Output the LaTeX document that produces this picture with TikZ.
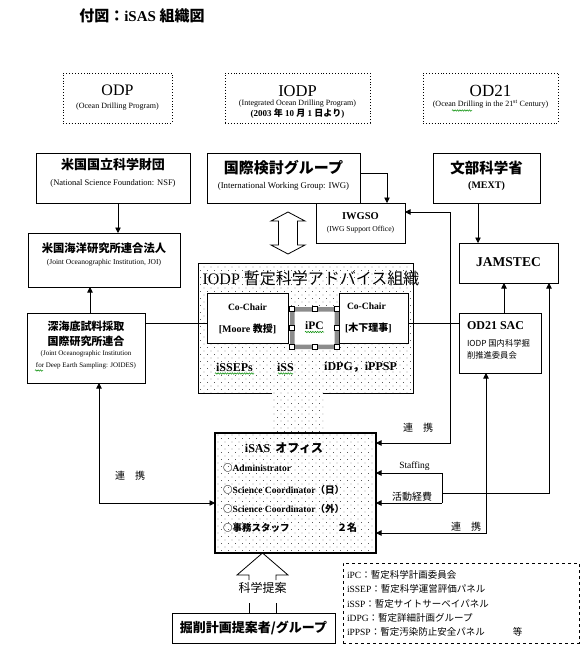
\documentclass[tikz,border=0pt]{standalone}
\usepackage{fontspec}
\setmainfont{Liberation Serif}
\newfontfamily\jp{Noto Sans CJK JP}
\usetikzlibrary{arrows.meta,patterns,decorations.pathmorphing}
\newcommand\fsz[1]{\fontsize{#1}{#1}\selectfont}
\pgfdeclarepatternformonly{sdots}{\pgfpoint{-1pt}{-1pt}}{\pgfpoint{8pt}{8pt}}{\pgfpoint{7pt}{7pt}}{%
  \pgfpathcircle{\pgfpoint{1pt}{1pt}}{0.45pt}%
  \pgfpathcircle{\pgfpoint{4.5pt}{4.5pt}}{0.45pt}%
  \pgfusepath{fill}}
\begin{document}
\begin{tikzpicture}[x=1pt,y=-1pt,
  box/.style={draw,line width=0.8pt,fill=white,inner sep=0pt,outer sep=0pt},
  dbox/.style={draw,line width=0.9pt,dotted,inner sep=0pt,outer sep=0pt},
  txt/.style={inner sep=0pt,outer sep=0pt},
  ln/.style={line width=0.8pt},
  arr/.style={line width=0.8pt,-{Triangle[width=5.5pt,length=5.5pt]}},
  arrb/.style={line width=0.8pt,{Triangle[width=5.5pt,length=5.5pt]}-{Triangle[width=5.5pt,length=5.5pt]}},
  squig/.style={green!55!black,line width=0.5pt,decorate,decoration={snake,amplitude=0.7pt,segment length=2.4pt}}]
\useasboundingbox (0,0) rectangle (584,646);

% title
\node[txt,font=\bfseries\fsz{15}] (title) at (142,16) {{\jp\bfseries 付図：}iSAS {\jp\bfseries 組織図}};

% top dotted boxes
\node[dbox,minimum width=109,minimum height=50] (odp) at (117.5,98) {};
\node[txt,font=\fsz{16}] (odpT) at (117.5,90) {ODP};
\node[txt,font=\fsz{8}] (odpS) at (117.5,107) {(Ocean Drilling Program)};

\node[dbox,minimum width=145,minimum height=50] (iodp) at (297.5,98) {};
\node[txt,font=\fsz{16.5}] (iodpT) at (297.5,91) {IODP};
\node[txt,font=\fsz{8}] (iodpS) at (297.5,104) {(Integrated Ocean Drilling Program)};
\node[txt,font=\bfseries\fsz{9}] (iodpD) at (297.5,114) {(2003 {\jp\bfseries 年} 10 {\jp\bfseries 月} 1 {\jp\bfseries 日より})};

\node[dbox,minimum width=135,minimum height=50] (od21) at (490.5,98) {};
\node[txt,font=\fsz{17}] (od21T) at (490.5,91) {OD21};
\node[txt,font=\fsz{8}] (od21S) at (490.5,104) {(Ocean Drilling in the 21\textsuperscript{st} Century)};
\draw[squig] (452,110.5) -- (472,110.5);

% second row
\node[box,minimum width=154,minimum height=50] (nsf) at (113,178) {};
\node[txt,font=\jp\bfseries\fsz{13}] (nsfT) at (113,165) {米国国立科学財団};
\node[txt,font=\fsz{8.5}] (nsfS) at (113,183) {(National Science Foundation: NSF)};

\node[box,minimum width=153,minimum height=50] (kokusai) at (283.5,178) {};
\node[txt,font=\jp\bfseries\fsz{15}] (kokT) at (283.5,168) {国際検討グループ};
\node[txt,font=\fsz{8.8}] (kokS) at (283.5,186) {(International Working Group: IWG)};

\node[box,minimum width=89,minimum height=40] (iwgso) at (360.5,223) {};
\node[txt,font=\bfseries\fsz{10.5}] (iwgT) at (360.5,216) {IWGSO};
\node[txt,font=\fsz{7.6}] (iwgS) at (360.5,230) {(IWG Support Office)};

\node[box,minimum width=107,minimum height=50] (mext) at (486.5,178) {};
\node[txt,font=\jp\bfseries\fsz{14.5}] (mextT) at (486.5,168) {文部科学省};
\node[txt,font=\bfseries\fsz{10}] (mextS) at (486.5,186) {(MEXT)};

\node[box,minimum width=99,minimum height=40] (jamstec) at (508.5,263) {};
\node[txt,font=\bfseries\fsz{13.5}] (jamT) at (508.5,262) {JAMSTEC};

\node[box,minimum width=152,minimum height=54] (joi) at (104,260) {};
\node[txt,font=\jp\bfseries\fsz{11.3}] (joiT) at (104,248) {米国海洋研究所連合法人};
\node[txt,font=\fsz{7.5}] (joiS) at (104,263) {(Joint Oceanographic Institution, JOI)};

\node[box,minimum width=118,minimum height=70] (joides) at (86,348) {};
\node[txt,font=\jp\bfseries\fsz{11}] (joidesT1) at (86,326) {深海底試料採取};
\node[txt,font=\jp\bfseries\fsz{11}] (joidesT2) at (86,341) {国際研究所連合};
\node[txt,font=\fsz{7}] (joidesS1) at (86,354) {(Joint Oceanographic Institution};
\node[txt,font=\fsz{7}] (joidesS2) at (86,366) {for Deep Earth Sampling: JOIDES)};
\draw[squig] (35,370.5) -- (43,370.5);

\node[box,minimum width=82,minimum height=60] (od21sac) at (500,343) {};
\node[txt,font=\bfseries\fsz{12},anchor=west] (sacT) at (467,326) {OD21 SAC};
\node[txt,font=\jp\fsz{8.3},anchor=west] (sacS1) at (467,343) {IODP 国内科学掘};
\node[txt,font=\jp\fsz{8.3},anchor=west] (sacS2) at (467,355) {削推進委員会};

% IODP interim science advisory structure (dotted region)
\fill[pattern=sdots] (198,263) -- (413,263) -- (413,393) -- (323,393) -- (323,433) -- (272,433) -- (272,393) -- (198,393) -- cycle;
\draw[ln] (272,393) -- (198,393) -- (198,263) -- (413,263) -- (413,393) -- (323,393);
\node[txt,font=\fsz{16}] (orgT) at (311,278) {IODP {\jp 暫定科学アドバイス組織}};

\node[box,minimum width=81,minimum height=50] (cochairL) at (247.5,318) {};
\node[txt,font=\bfseries\fsz{9.6}] (clT1) at (247.5,307) {Co-Chair};
\node[txt,font=\bfseries\fsz{10}] (clT2) at (247.5,329) {[Moore {\jp\bfseries 教授}]};

\node[box,minimum width=69,minimum height=50] (cochairR) at (373.5,318) {};
\node[txt,font=\bfseries\fsz{9.6},anchor=west] (crT1) at (347,306) {Co-Chair};
\node[txt,font=\bfseries\fsz{10},anchor=west] (crT2) at (345,328) {[{\jp\bfseries 木下理事}]};

% iPC selection frame
\fill[white] (290,307) rectangle (339,349);
\fill[black!45,even odd rule] (290,307) rectangle (339,349) (294.5,311.5) rectangle (334.5,344.5);
\foreach \hx/\hy in {292/309,314.5/309,337/309,292/328,337/328,292/347,314.5/347,337/347}
  \draw[line width=0.6pt,fill=white] (\hx-2.3,\hy-2.3) rectangle (\hx+2.3,\hy+2.3);
\node[txt,font=\bfseries\fsz{11.5}] (ipc) at (314.5,326) {iPC};
\draw[squig] (305,332) -- (324,332);

\node[txt,font=\bfseries\fsz{12}] (issep) at (234.5,367) {iSSEPs};
\node[txt,font=\bfseries\fsz{12}] (iss) at (285.5,367) {iSS};
\node[txt,font=\bfseries\fsz{12}] (idpg) at (360.5,367) {iDPG{\jp\bfseries ，}iPPSP};
\draw[squig] (215,373.5) -- (254,373.5);
\draw[squig] (278,373.5) -- (293,373.5);

% iSAS office
\node[draw,line width=1.8pt,pattern=sdots,minimum width=161,minimum height=120,inner sep=0pt,outer sep=0pt] (isas) at (295.5,493) {};
\node[txt,font=\bfseries\fsz{12}] (isasT) at (284,448) {iSAS\ \,{\jp\bfseries オフィス}};
\node[txt,font=\bfseries\fsz{9.5},anchor=west] (adm) at (223,468) {{\jp ○}Administrator};
\node[txt,font=\bfseries\fsz{9.5},anchor=west] (sc1) at (223,490) {{\jp ○}Science Coordinator{\jp\bfseries （日）}};
\node[txt,font=\bfseries\fsz{9.5},anchor=west] (sc2) at (223,509) {{\jp ○}Science Coordinator{\jp\bfseries （外）}};
\node[txt,font=\jp\bfseries\fsz{9.5},anchor=west] (staff) at (223,528) {○事務スタッフ};
\node[txt,font=\jp\bfseries\fsz{10}] (nin) at (347,528) {２名};

% proposers
\node[box,minimum width=163,minimum height=30] (kussaku) at (253.5,628) {};
\node[txt,font=\jp\bfseries\fsz{13}] (kusT) at (253.5,628) {掘削計画提案者/グループ};
\node[txt,font=\jp\fsz{12}] (teian) at (262.5,588) {科学提案};
\draw[ln] (249,580) -- (249,575) -- (237,575) -- (262.5,553) -- (288,575) -- (276,575) -- (276,580);
\draw[ln] (249,603) -- (249 ,613);
\draw[ln] (276,603) -- (276,613);

% hollow double arrow
\draw[ln,fill=white] (288,212) -- (305,221) -- (297.5,221) -- (297.5,245) -- (305,245) -- (288,254) -- (271,245) -- (278.5,245) -- (278.5,221) -- (271,221) -- cycle;

% legend
\node[draw,dashed,line width=0.8pt,minimum width=236,minimum height=80,inner sep=0pt] (legend) at (461,603) {};
\node[txt,font=\fsz{9.5},anchor=west] (lg1) at (347,575) {iPC{\jp：暫定科学計画委員会}};
\node[txt,font=\fsz{9.5},anchor=west] (lg2) at (347,589) {iSSEP{\jp：暫定科学運営評価パネル}};
\node[txt,font=\fsz{9.5},anchor=west] (lg3) at (347,603.5) {iSSP{\jp：暫定サイトサーベイパネル}};
\node[txt,font=\fsz{9.5},anchor=west] (lg4) at (347,618) {iDPG{\jp：暫定詳細計画グループ}};
\node[txt,font=\fsz{9.5},anchor=west] (lg5) at (347,632) {iPPSP{\jp：暫定汚染防止安全パネル}\hspace{28pt}{\jp 等}};

% connectors
\draw[arr] ([xshift=5pt]nsf.south) -- ([xshift=5pt]nsf.south |- joi.north);
\draw[arr] ([xshift=4pt]joides.north) -- ([xshift=4pt]joides.north |- joi.south);
\draw[arr] ([yshift=5pt]kokusai.east) -| ([xshift=26.5pt]iwgso.north);
\coordinate (c1) at (450,212);
\coordinate (c2) at (450,443);
\draw[arrb] (iwgso.east |- c1) -- (c1) -- (c2) -- (isas.east |- c2);
\draw[arr] ([xshift=-8.5pt]mext.south) -- ([xshift=-8.5pt]mext.south |- jamstec.north);
\draw[arr] ([xshift=4pt]od21sac.north) -- ([xshift=4pt]od21sac.north |- jamstec.south);
\coordinate (s1) at (442,473);
\coordinate (s2) at (442,503);
\coordinate (s3) at (442,493);
\coordinate (s4) at (549,493);
\draw[arr] (s1) -- (isas.east |- s1);
\draw[arr] (s2) -- (isas.east |- s2);
\draw[ln] (s1) -- (s2);
\draw[arr] (s3) -- (s4) -- (s4 |- jamstec.south);
\coordinate (b1) at (486,533);
\draw[arrb] (isas.east |- b1) -- (b1) -- (b1 |- od21sac.south);
\coordinate (l1) at (99,503);
\draw[arrb] (joides.south -| l1) -- (l1) -- (isas.west |- l1);
\draw[ln] ([yshift=-5pt]cochairL.west) -- ([yshift=-5pt]cochairL.west -| joides.east);
\draw[ln] ([yshift=-5pt]cochairR.east) -- ([yshift=-5pt]cochairR.east -| od21sac.west);

% connector labels
\node[txt,font=\jp\fsz{10}] (lab1) at (418,428) {連\hspace{10pt}携};
\node[txt,font=\fsz{9.5}] (lab2) at (414.5,466) {Staffing};
\node[txt,font=\jp\fsz{10}] (lab3) at (412,496.5) {活動経費};
\node[txt,font=\jp\fsz{10}] (lab4) at (466,527) {連\hspace{10pt}携};
\node[txt,font=\jp\fsz{10}] (lab5) at (130,476) {連\hspace{10pt}携};
\end{tikzpicture}
\end{document}
